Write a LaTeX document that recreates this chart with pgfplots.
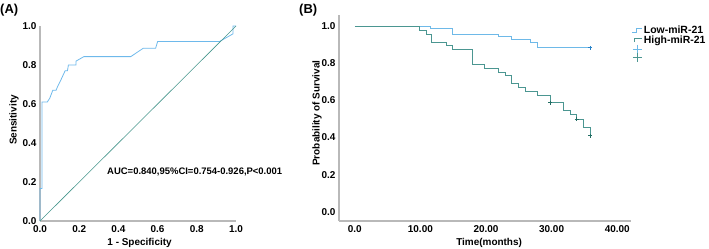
\documentclass[border=0pt]{standalone}
\usepackage{fontspec}
\setmainfont{Liberation Sans}
\usepackage{pgfplots}
\pgfplotsset{compat=1.18}
\definecolor{roc}{RGB}{110,185,235}
\definecolor{diag}{RGB}{70,150,140}
\definecolor{lowc}{RGB}{110,185,232}
\definecolor{highc}{RGB}{75,150,145}
\definecolor{lowm}{RGB}{40,130,200}
\definecolor{highm}{RGB}{35,110,100}
\definecolor{axgray}{RGB}{185,185,185}
\pgfplotsset{
  lowleg/.style={legend image code/.code={\draw[##1] (0bp,-2bp) -- (4bp,-2bp) -- (4bp,2bp) -- (10bp,2bp);}},
  highleg/.style={legend image code/.code={\draw[##1] (2bp,-2bp) -- (2bp,2bp) -- (10bp,2bp);}},
  lowmleg/.style={legend image code/.code={\draw[##1, lowc, mark size=4.5bp, mark options={line width=0.6pt}] plot coordinates {(5bp,0bp)};}},
  highmleg/.style={legend image code/.code={\draw[##1, highc, mark size=4.5bp, mark options={line width=0.6pt}] plot coordinates {(5bp,0bp)};}},
}
\begin{document}
\begin{tikzpicture}
\useasboundingbox (0bp,0bp) rectangle (709bp,249bp);
\pgfplotsset{
  every axis/.append style={
    scale only axis,
    axis x line*=bottom, axis y line*=left,
    axis line style={-, draw=axgray, line width=1.2pt},
    major tick length=0pt,
    tick label style={font=\fontsize{10}{12}\selectfont\bfseries},
    label style={font=\fontsize{10}{12}\selectfont\bfseries},
    /pgf/number format/assume math mode=true,
    clip=false,
  }
}
\node[anchor=west, font=\fontsize{13}{15}\selectfont\bfseries, inner sep=0pt] at (0bp,239bp) {(A)};
\node[anchor=west, font=\fontsize{13}{15}\selectfont\bfseries, inner sep=0pt] at (299bp,239bp) {(B)};

\begin{axis}[
  at={(40bp,28bp)}, anchor=south west,
  width=196bp, height=195bp,
  xmin=0, xmax=1, ymin=0, ymax=1,
  xtick={0,0.2,0.4,0.6,0.8,1}, xticklabels={0.0,0.2,0.4,0.6,0.8,1.0},
  ytick={0,0.2,0.4,0.6,0.8,1}, yticklabels={0.0,0.2,0.4,0.6,0.8,1.0},
  x tick label style={yshift=-1bp},
  xlabel={1 - Specificity}, ylabel={Sensitivity},
  xlabel style={at={(axis description cs:0.508,-0.113)}, anchor=center},
  ylabel style={at={(axis description cs:-0.133,0.518)}, anchor=center},
]
\addplot[roc, line width=0.8pt] coordinates {
(0,0) (0,0.167) (0.01,0.167) (0.01,0.61) (0.037,0.61) (0.05,0.63) (0.065,0.67)
(0.082,0.67) (0.09,0.69) (0.105,0.72) (0.128,0.77) (0.14,0.77) (0.145,0.80)
(0.184,0.80) (0.184,0.82) (0.224,0.843) (0.463,0.843) (0.527,0.886) (0.59,0.886)
(0.6,0.92) (0.915,0.92) (0.985,0.96) (0.985,1.0) (1,1)
};
\addplot[diag, line width=0.6pt] coordinates {(0,0) (1,1)};
\node[anchor=west, font=\fontsize{9.5}{11}\selectfont\bfseries, inner sep=0pt] at (axis cs:0.342,0.251) {AUC=0.840,95\%CI=0.754-0.926,P<0.001};
\end{axis}

\begin{axis}[
  at={(339bp,28bp)}, anchor=south west,
  width=292bp, height=206bp,
  xmin=-2.4, xmax=42.1, ymin=-0.05, ymax=1.06,
  xtick={0,10,20,30,40}, xticklabels={0.0,10.00,20.00,30.00,40.00},
  ytick={0,0.2,0.4,0.6,0.8,1}, yticklabels={0.0,0.2,0.4,0.6,0.8,1.0},
  x tick label style={yshift=-1bp},
  xlabel={Time(months)}, ylabel={Probability of Survival},
  xlabel style={at={(axis description cs:0.514,-0.107)}, anchor=center},
  ylabel style={at={(axis description cs:-0.075,0.524)}, anchor=center},
  legend style={at={(1.003,0.955)}, anchor=north west, draw=none, fill=none,
    font=\fontsize{10.5}{12}\selectfont\bfseries, inner sep=0pt, row sep=-1pt,
    nodes={inner sep=1pt}},
  legend cell align=left,
]
\addplot[lowc, line width=0.8pt, const plot, lowleg]
coordinates {
(0,1) (11.5,0.989) (14.9,0.957) (21.9,0.944) (23.9,0.928) (26.7,0.915) (27.8,0.883) (35.9,0.883)
};
\addlegendentry{Low-miR-21}
\addplot[highc, line width=0.8pt, const plot, highleg]
coordinates {
(0,1) (9.8,0.975) (10.9,0.954) (11.7,0.915) (13.9,0.897) (14.9,0.874) (18.0,0.795)
(19.8,0.774) (21.9,0.752) (22.9,0.732) (23.9,0.691) (24.9,0.668) (26.0,0.649)
(27.8,0.626) (29.8,0.587) (31.8,0.545) (32.8,0.523) (33.8,0.500) (34.9,0.457)
(35.9,0.410) (35.9,0.410)
};
\addlegendentry{High-miR-21}
\addplot[lowm, only marks, mark=+, mark size=2bp, mark options={line width=0.8pt}, lowmleg]
coordinates {(35.9,0.883)};
\addlegendentry{}
\addplot[highm, only marks, mark=+, mark size=2bp, mark options={line width=0.8pt}, highmleg]
coordinates {(29.8,0.587) (33.8,0.500) (35.9,0.410)};
\addlegendentry{}
\end{axis}
\end{tikzpicture}
\end{document}
